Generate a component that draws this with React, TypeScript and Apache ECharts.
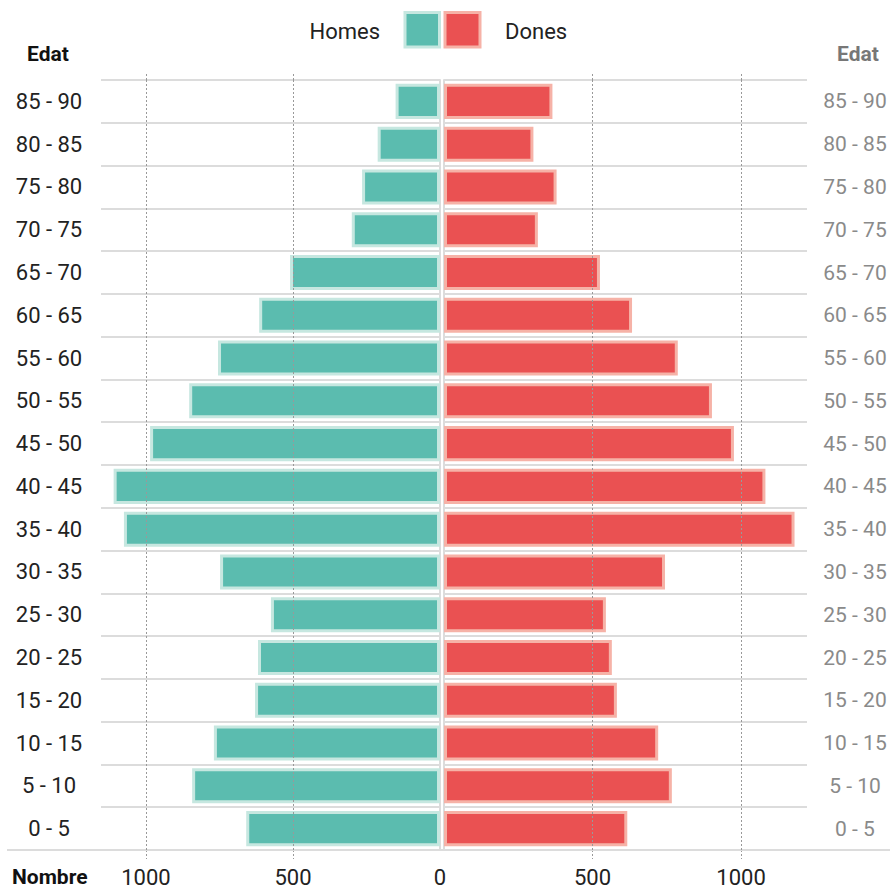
import React, { useEffect, useRef } from "react";
import * as echarts from "echarts";

const categories = ["0 - 5", "5 - 10", "10 - 15", "15 - 20", "20 - 25", "25 - 30", "30 - 35", "35 - 40", "40 - 45", "45 - 50", "50 - 55", "55 - 60", "60 - 65", "65 - 70", "70 - 75", "75 - 80", "80 - 85", "85 - 90"];
const homes = [659, 843, 769, 629, 619, 575, 748, 1075, 1110, 986, 853, 755, 615, 510, 300, 265, 212, 151];
const dones = [617, 767, 721, 582, 565, 545, 744, 1180, 1082, 976, 902, 787, 633, 525, 316, 379, 301, 365];
const leftTicks = [0, 500, 1000];
const rightTicks = [500, 1000];
const gridTicks = [500, 1000];

const FONT = "Roboto";
const TEAL = "#5bbcaf";
const TEAL_B = "#c6e7e0";
const RED = "#ea5152";
const RED_B = "#f6b2a7";

export default function App() {
  const ref = useRef<HTMLDivElement>(null);
  useEffect(() => {
    const chart = echarts.init(ref.current!, null, { renderer: "svg" });
    const markLine = {
      silent: true,
      symbol: "none",
      label: { show: false },
      lineStyle: { color: "#999", type: [2, 2], width: 1 },
      data: gridTicks.map((v) => ({ xAxis: v })),
    };
    const tickStyle = { show: true, length: 9, customValues: gridTicks, lineStyle: { color: "#999", type: [2, 2], width: 1 } };
    const xCommon = {
      type: "value",
      min: 0,
      splitLine: { show: false },
      axisLine: { show: false },
    };
    const yCommon = {
      type: "category",
      data: categories,
      axisTick: { show: false },
      axisLine: { show: true, lineStyle: { color: "#dcdcdc", width: 2 } },
      splitLine: { show: true, lineStyle: { color: "#dcdcdc", width: 2 } },
    };
    const fmt = (v: number) => String(v);
    chart.setOption({
      animation: false,
      grid: [
        { left: 101, top: 80, width: 339, height: 770, outerBoundsMode: "none", containLabel: false },
        { left: 444, top: 80, width: 363, height: 770, outerBoundsMode: "none", containLabel: false },
      ],
      xAxis: [
        {
          ...xCommon, gridIndex: 0, inverse: true, max: 1153, position: "bottom",
          axisTick: tickStyle,
          axisLabel: { customValues: leftTicks, formatter: fmt, margin: 16, fontSize: 22, color: "#222", fontFamily: FONT },
        },
        {
          ...xCommon, gridIndex: 1, max: 1222, position: "bottom",
          axisTick: tickStyle,
          axisLabel: { customValues: rightTicks, formatter: fmt, margin: 16, fontSize: 22, color: "#222", fontFamily: FONT },
        },
        { ...xCommon, gridIndex: 0, inverse: true, max: 1153, position: "top", axisTick: { ...tickStyle, length: 8 }, axisLabel: { show: false } },
        { ...xCommon, gridIndex: 1, max: 1222, position: "top", axisTick: { ...tickStyle, length: 8 }, axisLabel: { show: false } },
      ],
      yAxis: [
        {
          ...yCommon, gridIndex: 0, position: "left",
          axisLabel: { align: "center", margin: 52, fontSize: 22, color: "#222", fontFamily: FONT },
        },
        {
          ...yCommon, gridIndex: 1, position: "right",
          axisLabel: { align: "center", margin: 48, fontSize: 21, color: "#8a8a8a", fontFamily: FONT },
        },
      ],
      series: [
        {
          name: "Homes", type: "bar", xAxisIndex: 0, yAxisIndex: 0, data: homes,
          barCategoryGap: "18%",
          itemStyle: { color: TEAL, borderColor: TEAL_B, borderWidth: 3 },
          markLine,
        },
        {
          name: "Dones", type: "bar", xAxisIndex: 1, yAxisIndex: 1, data: dones,
          barCategoryGap: "18%",
          itemStyle: { color: RED, borderColor: RED_B, borderWidth: 3 },
          markLine,
        },
      ],
      graphic: [
        { type: "line", shape: { x1: 7, y1: 850, x2: 890, y2: 850 }, style: { stroke: "#dcdcdc", lineWidth: 2 }, z: 5 },
        { type: "rect", shape: { x: 405, y: 12.5, width: 34.5, height: 34.5 }, style: { fill: TEAL, stroke: TEAL_B, lineWidth: 3 } },
        { type: "rect", shape: { x: 445, y: 12.5, width: 35, height: 34.5 }, style: { fill: RED, stroke: RED_B, lineWidth: 3 } },
        { type: "text", x: 380, y: 31, style: { text: "Homes", fill: "#222", font: `22px ${FONT}`, textAlign: "right", textVerticalAlign: "middle" } },
        { type: "text", x: 505, y: 31, style: { text: "Dones", fill: "#222", font: `22px ${FONT}`, textAlign: "left", textVerticalAlign: "middle" } },
        { type: "text", x: 48, y: 54, style: { text: "Edat", fill: "#111", font: `bold 21px ${FONT}`, textAlign: "center", textVerticalAlign: "middle" } },
        { type: "text", x: 858, y: 54, style: { text: "Edat", fill: "#777", font: `bold 21px ${FONT}`, textAlign: "center", textVerticalAlign: "middle" } },
        { type: "text", x: 12, y: 877, style: { text: "Nombre", fill: "#111", font: `bold 21px ${FONT}`, textAlign: "left", textVerticalAlign: "middle" } },
      ],
    });
    return () => chart.dispose();
  }, []);
  return <div ref={ref} style={{ width: 890, height: 888, position: "absolute", left: 0, top: 0 }} />;
}
